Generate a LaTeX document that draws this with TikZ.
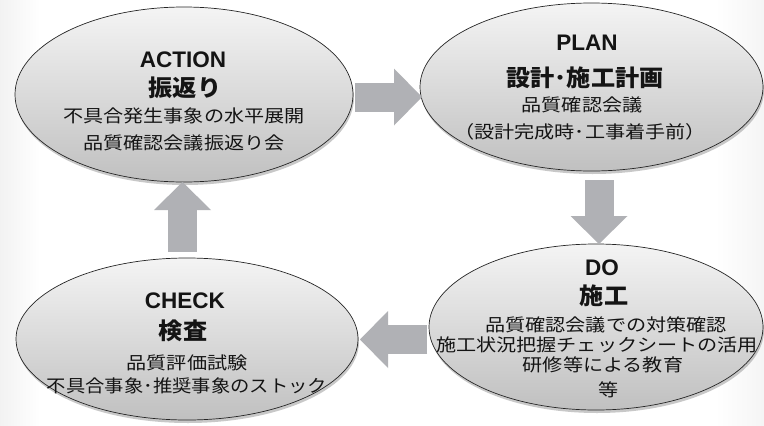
\documentclass[tikz,border=0pt]{standalone}
\usepackage{fontspec}
\usepackage{graphicx}
\setmainfont{Liberation Sans}
\newfontfamily\jp[FakeStretch=1.15]{Noto Sans CJK JP}
\newfontfamily\jpb[FakeStretch=1.05]{Noto Sans CJK JP}
\usetikzlibrary{shapes.geometric,shadows,arrows.meta}
\definecolor{arrowgray}{RGB}{176,177,181}
\definecolor{elltop}{RGB}{244,244,244}
\definecolor{ellbot}{RGB}{192,192,192}
\definecolor{txt}{RGB}{20,20,20}
\begin{document}
\begin{tikzpicture}[x=1pt,y=-1pt,
  ell/.style={ellipse, draw=black!85, line width=0.7pt, top color=elltop, bottom color=ellbot,
    inner sep=0pt, drop shadow={shadow xshift=1pt, shadow yshift=-3pt, opacity=0.3, fill=black!70}},
  blockarrow/.style={draw=arrowgray, line width=29pt, line cap=butt,
    -{Triangle[length=28pt,width=57pt,line width=0pt]}},
  ttl/.style={font=\bfseries\fontsize{22.5}{26}\selectfont, text=txt, anchor=base, inner sep=0pt},
  ttljp/.style={font=\jpb\bfseries\fontsize{23}{26}\selectfont, text=txt, anchor=base, inner sep=0pt},
  body/.style={font=\jp\fontsize{17.5}{20}\selectfont, text=txt, anchor=base, inner sep=0pt}]
\useasboundingbox (0,0) rectangle (764,426);
\fill[white] (0,0) rectangle (764,426);
\shade[left color=black!5, right color=white] (0,0) rectangle (40,426);
\shade[left color=white, right color=black!4] (715,0) rectangle (764,426);

% ellipses
\node[ell, minimum width=338pt, minimum height=175pt] (act) at (184,94.5) {};
\node[ell, minimum width=343pt, minimum height=168pt] (plan) at (591.5,87) {};
\node[ell, minimum width=342pt, minimum height=162pt] (chk) at (187,339) {};
\node[ell, minimum width=334pt, minimum height=166pt] (do) at (596,327) {};

% arrows
\coordinate (r1) at (355,97);   \coordinate (r2) at (422,97);
\coordinate (d1) at (599,180);  \coordinate (d2) at (599,244);
\coordinate (l1) at (427,339.5); \coordinate (l2) at (360,339.5);
\coordinate (u1) at (182.5,252); \coordinate (u2) at (182.5,182);
\draw[blockarrow] (r1) -- (r2);
\draw[blockarrow] (d1) -- (d2);
\draw[blockarrow] (l1) -- (l2);
\draw[blockarrow] (u1) -- (u2);

% ACTION
\node[ttl] (actT) at (183,67) {ACTION};
\node[ttljp] (actJ) at (185,96) {振返り};
\node[body] (actA) at (184,122) {不具合発生事象の水平展開};
\node[body] (actB) at (184,149) {品質確認会議振返り会};

% PLAN
\node[ttl] (planT) at (587,50) {PLAN};
\node[ttljp] (planJ) at (585,86) {設計･施工計画};
\node[body] (planA) at (582,111) {品質確認会議};
\node[body] (planB) at (580,138) {（設計完成時･工事着手前）};

% CHECK
\node[ttl] (chkT) at (185,308) {CHECK};
\node[ttljp] (chkJ) at (183,339) {検査};
\node[body] (chkA) at (187,369) {品質評価試験};
\node[body] (chkB) at (187,392) {\scalebox{0.96}[1]{不具合事象･推奨事象のストック}};

% DO
\node[ttl] (doT) at (602,275) {DO};
\node[ttljp] (doJ) at (604,304) {施工};
\node[body] (doA) at (606,331) {品質確認会議での対策確認};
\node[body] (doB) at (597,351) {施工状況把握チェックシートの活用};
\node[body] (doC) at (603,371) {研修等による教育};
\node[body] (doD) at (609,396) {等};
\end{tikzpicture}
\end{document}
